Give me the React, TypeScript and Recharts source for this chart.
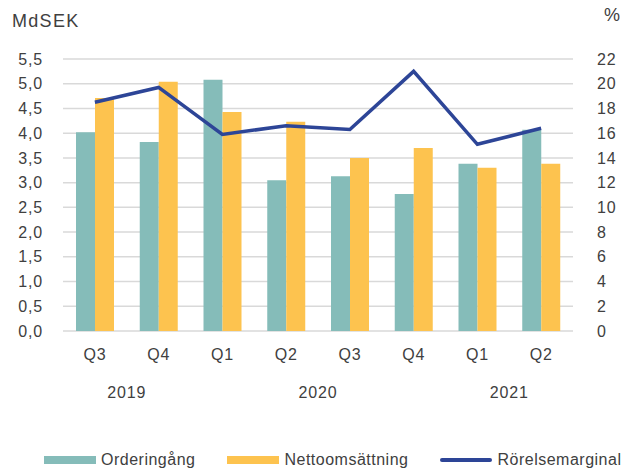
import React from "react";
import {
  Bar,
  CartesianGrid,
  ComposedChart,
  Legend,
  Line,
  XAxis,
  YAxis,
} from "recharts";

const quarters = ["Q3", "Q4", "Q1", "Q2", "Q3", "Q4", "Q1", "Q2"];
const orderingang = [4.02, 3.82, 5.08, 3.05, 3.13, 2.77, 3.38, 4.07];
const nettoomsattning = [4.71, 5.04, 4.43, 4.23, 3.5, 3.7, 3.3, 3.38];
const rorelsemarginal = [18.5, 19.7, 15.9, 16.6, 16.3, 21.0, 15.1, 16.4];

const years = ["2019", "2020", "2021"];
const quartersPerYear = [2, 4, 2];

const leftTicks = [0, 0.5, 1, 1.5, 2, 2.5, 3, 3.5, 4, 4.5, 5, 5.5];
const rightTicks = [0, 2, 4, 6, 8, 10, 12, 14, 16, 18, 20, 22];

const seriesNames = ["Orderingång", "Nettoomsättning", "Rörelsemarginal"];

const TEAL = "#85bcb9";
const YELLOW = "#fdc34f";
const NAVY = "#2d4597";
const TEXT = "#404040";
const FONT = "'Liberation Sans', Arial, sans-serif";

const data = quarters.map((q, i) => ({
  quarter: q,
  pos: i + 0.5,
  order: orderingang[i],
  netto: nettoomsattning[i],
  marginal: rorelsemarginal[i],
}));

// year labels sit centred under their group of quarters
const yearCenters: number[] = [];
let acc = 0;
quartersPerYear.forEach((n) => {
  yearCenters.push(acc + n / 2);
  acc += n;
});

const tickStyle = { fontSize: 16, fill: TEXT, fontFamily: FONT, letterSpacing: 0.8 };

function LegendContent({ payload }: any) {
  const items = [...(payload || [])].sort(
    (a: any, b: any) => seriesNames.indexOf(a.value) - seriesNames.indexOf(b.value)
  );
  return (
    <div style={{ display: "flex", alignItems: "center", paddingLeft: 44, fontFamily: FONT, fontSize: 16, color: TEXT, letterSpacing: 0.5, lineHeight: "22px", whiteSpace: "nowrap" }}>
      {items.map((p: any, i: number) => (
        <div key={i} style={{ display: "flex", alignItems: "center", marginRight: 32, flexShrink: 0 }}>
          <div
            style={{
              width: 52,
              height: p.type === "line" ? 4 : 8,
              background: p.color,
              borderRadius: p.type === "line" ? 2 : 0,
              marginRight: 5,
            }}
          />
          <span>{p.value}</span>
        </div>
      ))}
    </div>
  );
}

export default function App() {
  return (
    <div style={{ position: "absolute", left: 0, top: 0, width: 626, height: 468, background: "#fff", overflow: "hidden" }}>
      <div style={{ position: "absolute", left: 12, top: 11, fontFamily: FONT, fontSize: 18, color: TEXT, letterSpacing: 1.3 }}>
        MdSEK
      </div>
      <div style={{ position: "absolute", left: 604, top: 5, fontFamily: FONT, fontSize: 18, color: TEXT }}>
        %
      </div>
      <ComposedChart
        width={626}
        height={468}
        data={data}
        margin={{ top: 59, right: 0, left: 0, bottom: 45 }}
        barGap={0}
      >
        <CartesianGrid yAxisId="left" vertical={false} stroke="#d9d9d9" strokeWidth={1.5} />
        <XAxis
          dataKey="quarter"
          height={30}
          axisLine={false}
          tickLine={false}
          tickMargin={12}
          tick={tickStyle}
        />
        <XAxis
          xAxisId="year"
          dataKey="pos"
          type="number"
          domain={[0, quarters.length]}
          ticks={yearCenters}
          tickFormatter={(v) => years[yearCenters.indexOf(v)] ?? ""}
          allowDataOverflow
          height={40}
          axisLine={false}
          tickLine={false}
          tickMargin={20}
          tick={tickStyle}
        />
        <YAxis
          yAxisId="left"
          width={63}
          domain={[0, 5.5]}
          ticks={leftTicks}
          tickFormatter={(v) => Number(v).toFixed(1).replace(".", ",")}
          axisLine={false}
          tickLine={false}
          tickMargin={14}
          tick={tickStyle}
        />
        <YAxis
          yAxisId="right"
          orientation="right"
          width={53}
          domain={[0, 22]}
          ticks={rightTicks}
          axisLine={false}
          tickLine={false}
          tickMargin={18}
          tick={{ ...tickStyle, textAnchor: "start" }}
        />
        <Bar yAxisId="left" dataKey="order" name="Orderingång" fill={TEAL} barSize={19} isAnimationActive={false} />
        <Bar yAxisId="left" dataKey="netto" name="Nettoomsättning" fill={YELLOW} barSize={19} isAnimationActive={false} />
        <Line
          yAxisId="right"
          dataKey="marginal"
          name="Rörelsemarginal"
          type="linear"
          stroke={NAVY}
          strokeWidth={3.5}
          dot={false}
          isAnimationActive={false}
        />
        <Legend
          verticalAlign="bottom"
          content={<LegendContent />}
          wrapperStyle={{ top: 449, bottom: "auto", left: 0, width: 626 }}
        />
      </ComposedChart>
    </div>
  );
}
